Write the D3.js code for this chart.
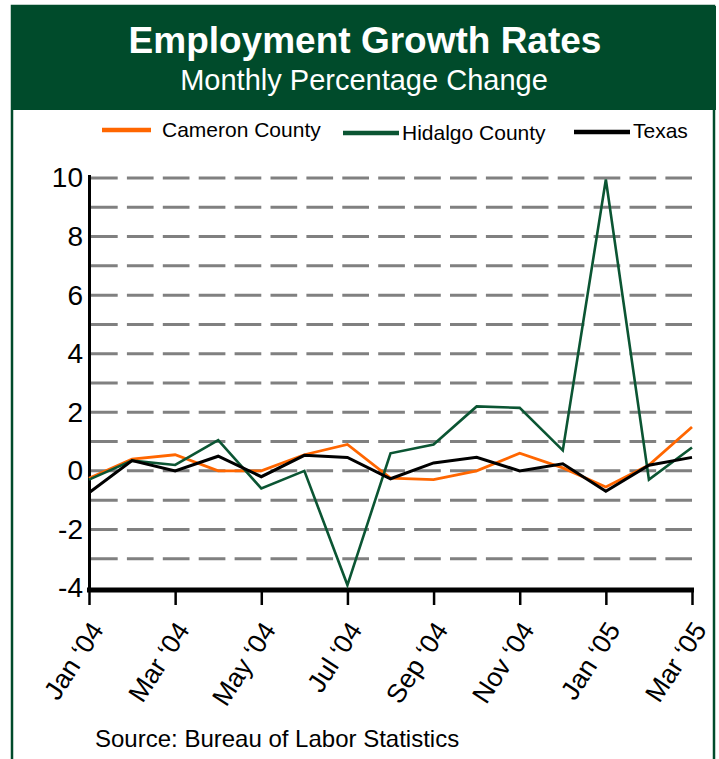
<!DOCTYPE html>
<html>
<head>
<meta charset="utf-8">
<script src="https://cdn.jsdelivr.net/npm/d3@7/dist/d3.min.js"></script>
<style>
  html, body { margin: 0; padding: 0; background: #fff; }
  svg { display: block; font-family: "Liberation Sans", Arial, sans-serif; }
</style>
</head>
<body>
<svg id="chart" width="719" height="759"></svg>
<script>
// Monthly employment growth, Jan 2004 – Mar 2005 (percent change)
const months = ["Jan '04","Feb '04","Mar '04","Apr '04","May '04","Jun '04","Jul '04",
                "Aug '04","Sep '04","Oct '04","Nov '04","Dec '04","Jan '05","Feb '05","Mar '05"];
const cameron = [-0.25, 0.4, 0.55, 0.0, 0.0, 0.55, 0.9, -0.25, -0.3, 0.0, 0.6, 0.1, -0.55, 0.2, 1.5];
const hidalgo = [-0.3, 0.35, 0.2, 1.05, -0.6, 0.0, -3.9, 0.6, 0.9, 2.2, 2.15, 0.7, 9.95, -0.3, 0.8];
const texas   = [-0.75, 0.35, 0.0, 0.5, -0.2, 0.53, 0.46, -0.27, 0.27, 0.46, 0.0, 0.24, -0.7, 0.19, 0.46];

const xTickIndex  = [0, 2, 4, 6, 8, 10, 12, 14];
const xTickLabels = ["Jan \u201804","Mar \u201804","May \u201804","Jul \u201804",
                     "Sep \u201804","Nov \u201804","Jan \u201805","Mar \u201805"];
const yTickValues = [-4, -2, 0, 2, 4, 6, 8, 10];
const gridValues  = [-3, -2, -1, 0, 1, 2, 3, 4, 5, 6, 7, 8, 9, 10];

const series = [
  { name: "Cameron County", values: cameron, color: "#FF6600", width: 2.8 },
  { name: "Hidalgo County", values: hidalgo, color: "#0B5533", width: 2.6 },
  { name: "Texas",          values: texas,   color: "#000000", width: 3 }
];

const GREEN = "#004B2B";
const svg = d3.select("#chart");

// frame and header band
svg.append("rect").attr("x", 12).attr("y", 6).attr("width", 702).attr("height", 780)
  .attr("fill", "#fff").attr("stroke", GREEN).attr("stroke-width", 2.5);
svg.append("rect").attr("x", 11).attr("y", 6).attr("width", 705).attr("height", 104)
  .attr("fill", GREEN);

svg.append("text").attr("x", 365).attr("y", 53).attr("text-anchor", "middle")
  .attr("fill", "#fff").attr("font-size", 37).attr("font-weight", "bold")
  .text("Employment Growth Rates");
svg.append("text").attr("x", 364).attr("y", 90).attr("text-anchor", "middle")
  .attr("fill", "#fff").attr("font-size", 29)
  .text("Monthly Percentage Change");

// scales
const x = d3.scaleLinear().domain([0, months.length - 1]).range([89, 692]);
const y = d3.scaleLinear().domain([-4, 10]).range([588, 178]);

// dashed horizontal grid
svg.append("g").selectAll("line").data(gridValues).join("line")
  .attr("x1", 91).attr("x2", 692)
  .attr("y1", d => y(d)).attr("y2", d => y(d))
  .attr("stroke", "#808080").attr("stroke-width", 3)
  .attr("stroke-dasharray", "26.7,9.2");

// y axis labels (plain hyphen for negatives)
const yAxis = svg.append("g").attr("transform", "translate(89,0)")
  .call(d3.axisLeft(y).tickValues(yTickValues).tickSize(0).tickPadding(6)
    .tickFormat(d => String(d)));
yAxis.select(".domain").remove();
yAxis.selectAll("text").attr("font-size", 28).attr("fill", "#000")
  .attr("font-family", "Liberation Sans, Arial, sans-serif");
svg.append("line").attr("x1", 89.5).attr("x2", 89.5).attr("y1", 175).attr("y2", 590)
  .attr("stroke", "#000").attr("stroke-width", 3);

// x axis with ticks every two months
const xAxis = svg.append("g").attr("transform", "translate(0,590)")
  .call(d3.axisBottom(x).tickValues(xTickIndex).tickSize(15).tickFormat((d, i) => xTickLabels[i]));
xAxis.select(".domain").attr("stroke-width", 5).attr("d", "M87,0H694");
xAxis.selectAll(".tick line").attr("stroke-width", 2.5);
xAxis.selectAll(".tick text")
  .attr("font-size", 26.5).attr("fill", "#000")
  .attr("font-family", "Liberation Sans, Arial, sans-serif")
  .attr("text-anchor", "end")
  .attr("dy", null).attr("y", null)
  .attr("transform", "translate(15,40) rotate(-57)");

// series lines
const line = d3.line().x((d, i) => x(i)).y(d => y(d));
svg.append("g").selectAll("path").data(series).join("path")
  .attr("d", d => line(d.values))
  .attr("fill", "none").attr("stroke", d => d.color)
  .attr("stroke-width", d => d.width).attr("stroke-linejoin", "miter");

// legend
const legendItems = [
  { x1: 102, x2: 151, ly: 130, tx: 162, ty: 137 },
  { x1: 343, x2: 399, ly: 133, tx: 402, ty: 140 },
  { x1: 574, x2: 630, ly: 132, tx: 633, ty: 138 }
];
const lg = svg.append("g").selectAll("g").data(series).join("g");
lg.append("line")
  .attr("x1", (d, i) => legendItems[i].x1).attr("x2", (d, i) => legendItems[i].x2)
  .attr("y1", (d, i) => legendItems[i].ly).attr("y2", (d, i) => legendItems[i].ly)
  .attr("stroke", d => d.color).attr("stroke-width", 4.5);
lg.append("text")
  .attr("x", (d, i) => legendItems[i].tx).attr("y", (d, i) => legendItems[i].ty)
  .attr("font-size", 21).attr("fill", "#000").text(d => d.name);

// source note
svg.append("text").attr("x", 95).attr("y", 747).attr("font-size", 24).attr("fill", "#000")
  .text("Source: Bureau of Labor Statistics");
</script>
</body>
</html>
